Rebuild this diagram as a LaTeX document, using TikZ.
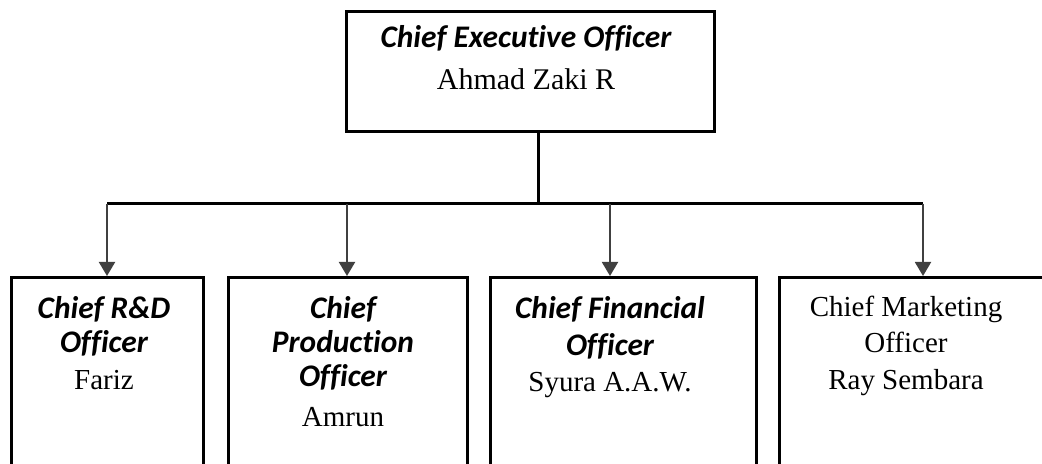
\documentclass[tikz,border=0pt]{standalone}
\usepackage{fontspec}
\setmainfont{Liberation Serif}
\setsansfont{Carlito}[Ligatures=NoCommon]
\usetikzlibrary{positioning,arrows.meta}
\tikzset{
  head box/.style={
    draw,
    line width=1.5pt,
    minimum width={#1*0.5pt},
    minimum height={60pt},
  },
  org box/.style={
    draw,
    line width=1.5pt,
    minimum width={#1*0.5pt},
    minimum height={104pt},
    anchor=north west,
  },
  role text/.style={
    align=center,
    anchor=north,
    inner sep=0pt,
    font=\fontsize{14.5}{17}\selectfont,
  },
  drop/.style={
    -{Triangle[width=8pt,length=7pt]},
    line width=1pt,
    draw=black!75,
    fill=black,
  }
}
\newcommand{\roletitle}[1]{{\sffamily\bfseries\itshape\fontsize{15.7}{17}\selectfont #1}}

\begin{document}
\begin{tikzpicture}[x=0.5pt,y=0.5pt]
        \clip (0,0) rectangle (1042,464);

        \node [head box=368] (ceo) at (530,392) {};
        \node [org box=192] (rnd) at (10,188) {};
        \node [org box=239] (prod) at (227,188) {};
        \node [org box=266] (fin) at (489,188) {};
        \node [org box=280] (mkt) at (778,188) {};

        \node [role text] (ceo text) at (526,439) {\roletitle{Chief Executive Officer}\\[4pt] {\fontsize{15}{17}\selectfont Ahmad Zaki R}};
        \node [role text] (rnd text) at (104,168) {\roletitle{Chief R\&D}\\\roletitle{Officer}\\[1.5pt] Fariz};
        \node [role text] (prod text) at (343,168) {\roletitle{Chief}\\\roletitle{Production}\\\roletitle{Officer}\\[3pt] Amrun};
        \node [role text] (fin text) at (610,168) {\roletitle{Chief Financial}\\[1.5pt]\roletitle{Officer}\\[1pt] Syura A.A.W.};
        \node [role text] (mkt text) at (906,168) {Chief Marketing\\[1pt]Officer\\[1.5pt] Ray Sembara};

        \coordinate (bus) at (538,260);
        \coordinate (d1) at (107,260);
        \coordinate (d2) at (347,260);
        \coordinate (d3) at (610,260);
        \coordinate (d4) at (923,260);
        \draw [line width=1.5pt] (ceo.south -| bus) -- (bus);
        \draw [line width=1.5pt] (d1) -- (d4);
        \foreach \d/\b in {d1/rnd, d2/prod, d3/fin, d4/mkt}
          \draw [drop] (\d) -- (\d |- \b.north);
      \end{tikzpicture}
\end{document}
